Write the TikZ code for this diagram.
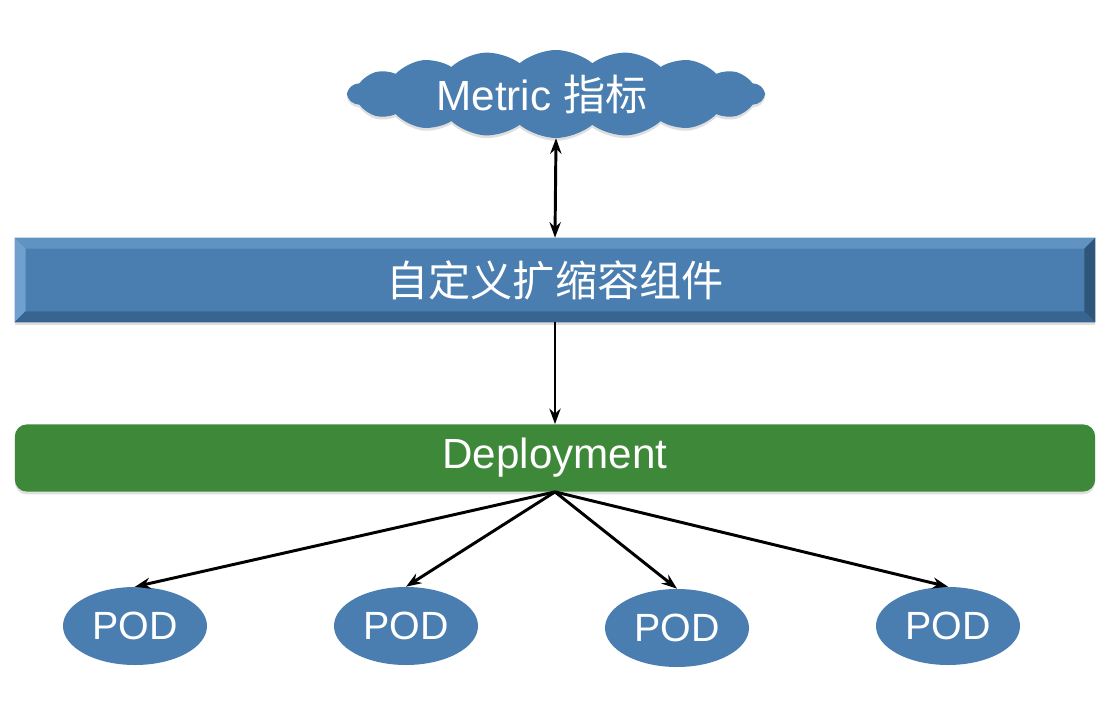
\documentclass[tikz,border=0pt]{standalone}
\usepackage{fontspec}
\setmainfont{Liberation Sans}
\newfontfamily\cjk{Noto Sans CJK SC}
\usetikzlibrary{shapes.geometric,shapes.symbols,arrows.meta,calc,shadows}

\definecolor{podblue}{RGB}{74,126,176}
\definecolor{bevellight}{RGB}{112,160,205}
\definecolor{bevelmid}{RGB}{96,146,194}
\definecolor{beveldark}{RGB}{56,100,145}
\definecolor{depgreen}{RGB}{62,136,58}

\tikzset{
  >={Stealth[length=11pt,width=8pt]},
  label text/.style={text=white, font=\fontsize{30}{34}\selectfont},
  podnode/.style={ellipse, fill=podblue, minimum width=3.6cm, minimum height=1.95cm,
    inner sep=0pt, text=white, font=\fontsize{28}{32}\selectfont},
  link/.style={->, line width=2.1pt, black},
  softshadow/.style={drop shadow={opacity=0.25, shadow xshift=0pt, shadow yshift=-2pt}}
}

\begin{document}
\begin{tikzpicture}[x=0.025cm, y=-0.025cm]
  \useasboundingbox (0,0) rectangle (1120,720);

  % --- metric cloud ---
  \node[cloud, cloud puffs=18, cloud puff arc=80, aspect=4.6, fill=podblue,
    minimum width=10.4cm, minimum height=2.2cm, inner sep=0pt, softshadow]
    (metric) at (556,94) {};
  \node[label text] at ($(metric.center)+(-14,0)$) {Metric {\cjk 指标}};

  % --- custom scaler bar (bevelled) ---
  \node[rectangle, fill=podblue, minimum width=27cm, minimum height=2.1cm,
    inner sep=0pt, softshadow] (scaler) at (555,280) {};
  \fill[bevelmid] (scaler.north west) -- (scaler.north east)
    -- ($(scaler.north east)+(-11,11)$) -- ($(scaler.north west)+(11,11)$) -- cycle;
  \fill[bevellight] (scaler.north west) -- ($(scaler.north west)+(11,11)$)
    -- ($(scaler.south west)+(11,-11)$) -- (scaler.south west) -- cycle;
  \fill[beveldark] (scaler.south west) -- ($(scaler.south west)+(11,-11)$)
    -- ($(scaler.south east)+(-11,-11)$) -- (scaler.south east) -- cycle;
  \fill[beveldark!85!black] (scaler.north east) -- (scaler.south east)
    -- ($(scaler.south east)+(-11,-11)$) -- ($(scaler.north east)+(-11,11)$) -- cycle;
  \node[label text] at (scaler.center) {\cjk 自定义扩缩容组件};

  % --- deployment ---
  \node[rectangle, rounded corners=0.3cm, fill=depgreen, minimum width=27cm,
    minimum height=1.68cm, inner sep=0pt, softshadow,
    text=white, font=\fontsize{30}{34}\selectfont] (deploy) at (555,458) {Deployment};

  % --- pods ---
  \node[podnode] (pod1) at (135,626) {POD};
  \node[podnode] (pod2) at (406,626) {POD};
  \node[podnode] (pod3) at (677,628) {POD};
  \node[podnode] (pod4) at (948,626) {POD};

  % --- connectors ---
  \draw[link, <->] (metric.south) -- (scaler.north);
  \draw[link] (scaler.south) -- (deploy.north);
  \foreach \p in {pod1,pod2,pod3,pod4}
    \draw[link] (deploy.south) -- (\p.north);
\end{tikzpicture}
\end{document}
